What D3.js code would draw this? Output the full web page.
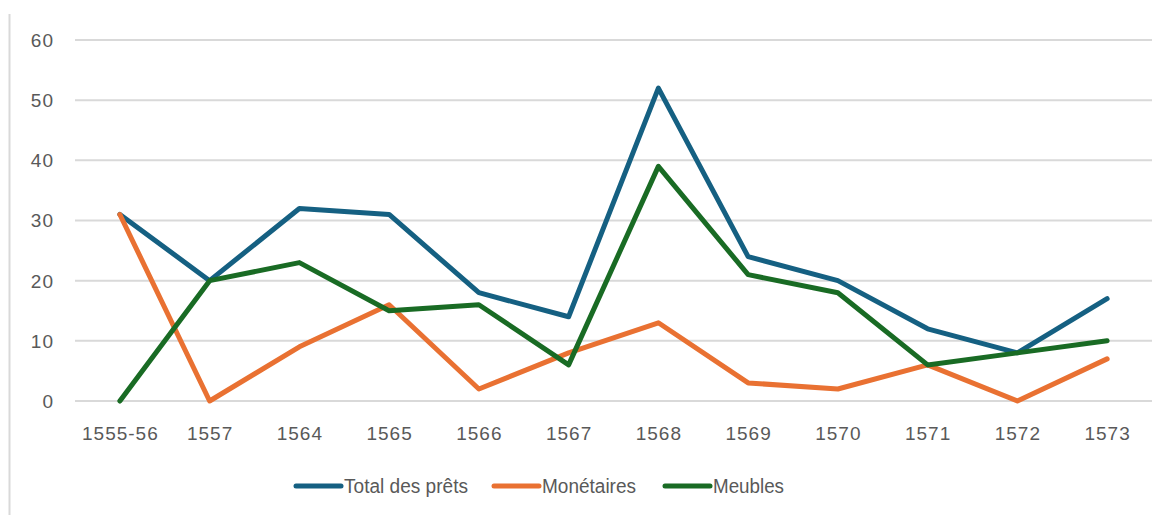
<!DOCTYPE html>
<html>
<head>
<meta charset="utf-8">
<script src="https://cdn.jsdelivr.net/npm/d3@7"></script>
<style>
	body { margin: 0; background: #fff; }
	svg text { font-family: "Liberation Sans", Arial, sans-serif; fill: #595959; }
</style>
</head>
<body>
<svg id="chart" width="1168" height="515"></svg>
<script>
const categories = ["1555-56", "1557", "1564", "1565", "1566", "1567", "1568", "1569", "1570", "1571", "1572", "1573"];
const totalPrets = [31, 20, 32, 31, 18, 14, 52, 24, 20, 12, 8, 17];
const monetaires = [31, 0, 9, 16, 2, 8, 13, 3, 2, 6, 0, 7];
const meubles = [0, 20, 23, 15, 16, 6, 39, 21, 18, 6, 8, 10];
const yTicks = [0, 10, 20, 30, 40, 50, 60];

const series = [
	{ name: "Total des prêts", values: totalPrets, color: "#156082" },
	{ name: "Monétaires", values: monetaires, color: "#E97132" },
	{ name: "Meubles", values: meubles, color: "#196B24" }
];

const svg = d3.select("#chart");

// frame line on the left
svg.append("line")
	.attr("x1", 9.5).attr("x2", 9.5)
	.attr("y1", 14).attr("y2", 515)
	.attr("stroke", "#d9d9d9").attr("stroke-width", 2);

let x = d3.scaleBand().domain(categories).range([75, 1152]);
let y = d3.scaleLinear().domain([0, 60]).range([401, 40]);

// grid
svg.append("g").selectAll("line")
	.data(yTicks)
	.enter()
	.append("line")
	.attr("x1", 75).attr("x2", 1152)
	.attr("y1", d => y(d)).attr("y2", d => y(d))
	.attr("stroke", "#d9d9d9").attr("stroke-width", 2);

// y labels
svg.append("g").selectAll("text")
	.data(yTicks)
	.enter()
	.append("text")
	.attr("x", 54)
	.attr("y", d => y(d))
	.attr("dy", "0.36em")
	.attr("text-anchor", "end")
	.attr("font-size", 19)
	.attr("letter-spacing", 1)
	.text(d => d);

// x labels
svg.append("g").selectAll("text")
	.data(categories)
	.enter()
	.append("text")
	.attr("x", d => x(d) + x.bandwidth() / 2 + 0.5)
	.attr("y", 440)
	.attr("text-anchor", "middle")
	.attr("font-size", 19)
	.attr("letter-spacing", 1)
	.text(d => d);

let line = d3.line()
	.x((d, i) => x(categories[i]) + x.bandwidth() / 2)
	.y(d => y(d));

svg.append("g").selectAll("path")
	.data(series)
	.enter()
	.append("path")
	.attr("d", d => line(d.values))
	.attr("fill", "none")
	.attr("stroke", d => d.color)
	.attr("stroke-width", 5)
	.attr("stroke-linejoin", "round")
	.attr("stroke-linecap", "round");

// legend
const legendX = [296, 494, 665];
const legendW = [124, 94, 71];
let legend = svg.append("g").selectAll("g")
	.data(series)
	.enter()
	.append("g")
	.attr("transform", (d, i) => "translate(" + legendX[i] + ",486)");
legend.append("line")
	.attr("x1", 0).attr("x2", 45)
	.attr("stroke", d => d.color)
	.attr("stroke-width", 5)
	.attr("stroke-linecap", "round");
legend.append("text")
	.attr("x", 48)
	.attr("dy", "0.36em")
	.attr("font-size", 20)
	.attr("textLength", (d, i) => legendW[i])
	.attr("lengthAdjust", "spacingAndGlyphs")
	.text(d => d.name);
</script>
</body>
</html>
